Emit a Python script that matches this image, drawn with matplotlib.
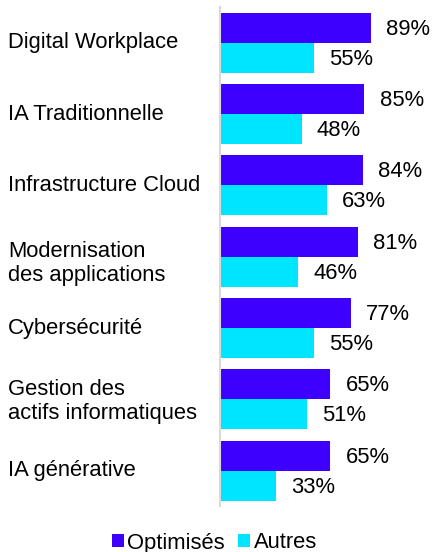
import numpy as np
import matplotlib.pyplot as plt

plt.rcParams['font.family'] = ['Liberation Sans', 'DejaVu Sans']

# data
categories = ['Digital Workplace', 'IA Traditionnelle', 'Infrastructure Cloud',
              'Modernisation\ndes applications', 'Cybersécurité',
              'Gestion des\nactifs informatiques', 'IA générative']
optimises = [89, 85, 84, 81, 77, 65, 65]
autres = [55, 48, 63, 46, 55, 51, 33]
series_names = ['Optimisés', 'Autres']

col_opt = '#3d00ff'
col_aut = '#00e5ff'
fs = 15.8

W, H = 432, 552
fig = plt.figure(figsize=(W / 100, H / 100), dpi=100)
ax = fig.add_axes([220.5 / W, 1 - 506.5 / H, (W - 220.5) / W, 499.5 / H])

y = np.arange(len(categories))
h = 0.42
b1 = ax.barh(y - h / 2, optimises, height=h, color=col_opt, label=series_names[0])
b2 = ax.barh(y + h / 2, autres, height=h, color=col_aut, label=series_names[1])

ax.set_xlim(0, 125)
ax.set_ylim(len(categories) - 0.5, -0.5)

for bars, vals in ((b1, optimises), (b2, autres)):
    for bar, v in zip(bars, vals):
        ax.annotate(f'{v}%', (bar.get_width(), bar.get_y() + bar.get_height() / 2),
                    xytext=(11, -1), textcoords='offset points',
                    ha='left', va='center', fontsize=fs, color='black')

# category labels, left aligned near the figure edge
# small vertical nudges (points) for the two-line labels, as in the original
nudge = {3: -5, 5: -1.5}
trans = plt.matplotlib.transforms.blended_transform_factory(fig.transFigure, ax.transData)
for i, c in enumerate(categories):
    ax.annotate(c, (8 / W, i), xycoords=trans, xytext=(0, nudge.get(i, 0)),
                textcoords='offset points', ha='left', va='center',
                fontsize=fs, color='black', linespacing=1.15)

for s in ['top', 'right', 'bottom']:
    ax.spines[s].set_visible(False)
ax.spines['left'].set_color('#d9d9d9')
ax.spines['left'].set_linewidth(1.5)
ax.set_xticks([])
ax.set_yticks([])

fig.legend(loc='center', bbox_to_anchor=(214.5 / W, 1 - 543 / H), ncol=2,
           frameon=False, fontsize=fs, handlelength=0.55, handleheight=0.55,
           handletextpad=0.15, columnspacing=0.6, borderpad=0)

fig.savefig('out.png', dpi=100)
